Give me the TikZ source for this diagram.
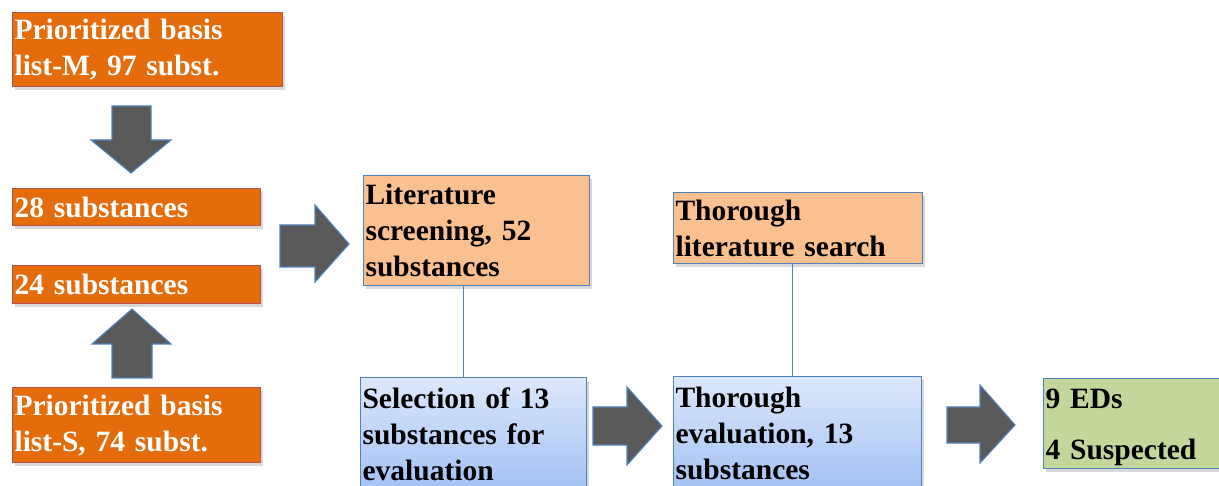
\documentclass[tikz,border=0pt]{standalone}
\usepackage{fontspec}
\setmainfont{Liberation Serif}
\usepackage{tikz}
\usetikzlibrary{shadows,shadings}
\usetikzlibrary{positioning}

\definecolor{listorange}{HTML}{E46C0A}
\definecolor{listred}{HTML}{B9524A}
\definecolor{peach}{HTML}{FAC090}
\definecolor{boxblue}{HTML}{4F81BD}
\definecolor{paleblue}{HTML}{DDE8FB}
\definecolor{midblue}{HTML}{A3C1F3}
\definecolor{resgreen}{HTML}{C3D69B}
\definecolor{arrowgray}{HTML}{595959}

\begin{document}
\begin{tikzpicture}[x=1pt, y=-1pt,
	font=\bfseries\fontsize{29.5}{36}\selectfont,
	box/.style={rectangle, draw=boxblue, line width=1.1pt, anchor=north west,
		inner xsep=2pt, inner ysep=0pt, align=left,
		drop shadow={shadow xshift=2pt, shadow yshift=-3pt, opacity=0.3}},
	listbox/.style={box, fill=listorange, draw=listred, text=white},
	screenbox/.style={box, fill=peach},
	evalbox/.style={box, top color=paleblue, bottom color=midblue},
	resultbox/.style={box, fill=resgreen},
	blockarrow/.style={fill=arrowgray, draw=boxblue, line width=1.1pt, line join=miter},
	link/.style={draw=boxblue, line width=1.2pt}]
	\useasboundingbox (0,0) rectangle (1219,486);
	\clip (0,0) rectangle (1219,486);
	
	% left column
	\node[listbox, text width=266pt, minimum height=74pt] (listM) at (12,12) {Prioritized basis\\list-M, 97 subst.};
	\node[listbox, text width=244pt, minimum height=37pt] (sub28) at (12,188) {28 substances};
	\node[listbox, text width=244pt, minimum height=38pt, below=39pt of sub28.south west, anchor=north west] (sub24) {24 substances};
	\node[listbox, text width=244pt, minimum height=75pt] (listS) at (12,387) {Prioritized basis\\list-S, 74 subst.};
	
	% screening and evaluation
	\node[screenbox, text width=222pt, minimum height=110pt] (litscreen) at (363,175) {Literature\\screening, 52\\substances};
	\node[evalbox, text width=222pt, minimum height=113pt] (select) at (360,377) {Selection of 13\\substances for\\evaluation};
	\node[screenbox, text width=245pt, minimum height=71pt] (thorlit) at (673,192) {Thorough\\literature search};
	\node[evalbox, text width=244pt, minimum height=114pt] (thoreval) at (673,376) {Thorough\\evaluation, 13\\substances};
	\node[resultbox, text width=196pt, minimum height=90pt] (result) at (1043,378) {\rule{0pt}{28pt}9 EDs\\[15pt]4 Suspected};
	
	\draw[link] ([xshift=-13pt]litscreen.south) -- ([xshift=-13pt]litscreen.south |- select.north);
	\draw[link] ([xshift=-5.5pt]thorlit.south) -- ([xshift=-5.5pt]thorlit.south |- thoreval.north);
	
	% block arrows
	\draw[blockarrow] (112,106) -- (151,106) -- (151,140) -- (171,140) -- (131,173) -- (91,140) -- (112,140) -- cycle;
	\draw[blockarrow] (112,378) -- (152,378) -- (152,344) -- (171,344) -- (132,309) -- (92,344) -- (112,344) -- cycle;
	\draw[blockarrow] (280,225) -- (315,225) -- (315,205) -- (349,244) -- (315,282) -- (315,267) -- (280,267) -- cycle;
	\draw[blockarrow] (593,407) -- (627,407) -- (627,387) -- (662,426) -- (627,465) -- (627,445) -- (593,445) -- cycle;
	\draw[blockarrow] (947,407) -- (980,407) -- (980,385) -- (1015,425) -- (980,463) -- (980,443) -- (947,443) -- cycle;
	
\end{tikzpicture}
\end{document}
